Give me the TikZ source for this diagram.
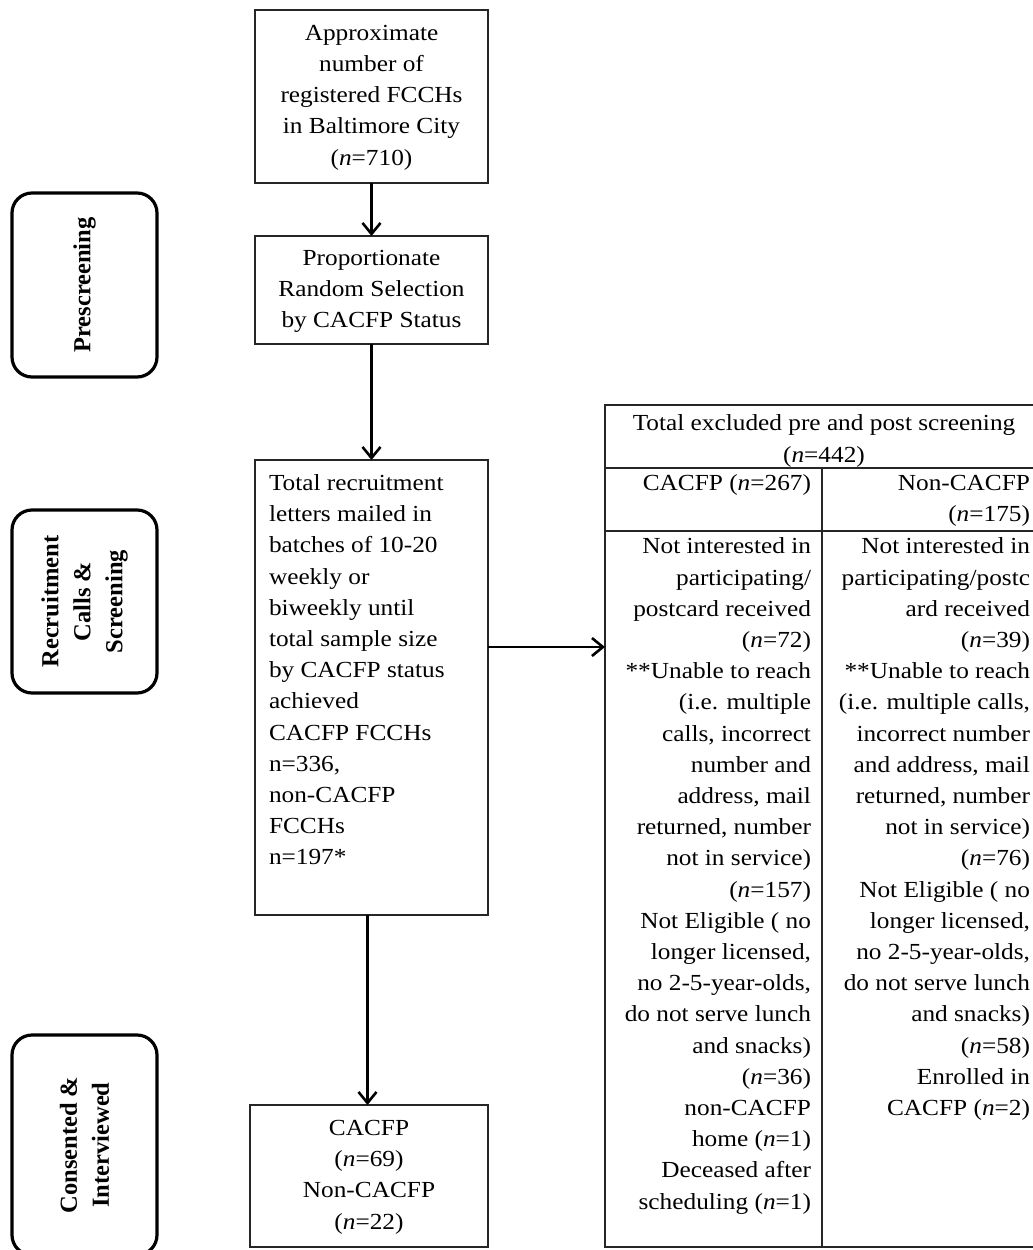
\documentclass[tikz,border=0pt]{standalone}
\usepackage{fontspec}
\setmainfont[FakeStretch=1.1]{Liberation Serif}
\newfontfamily\sidefont{Liberation Serif}
\usetikzlibrary{arrows.meta}
\newcommand{\nn}{\textit{n}}

\begin{document}
\begin{tikzpicture}[x=1pt,y=-1pt,
  every node/.style={inner sep=0pt, outer sep=0pt},
  txt/.style={font=\fontsize{23}{31.2}\selectfont},
  stagebox/.style={draw=black!85, line width=1.5pt, txt, align=center},
  phasebox/.style={draw=black, line width=3.2pt, rounded corners=20pt,
    minimum width=145pt},
  phaselabel/.style={rotate=90, align=center,
    font=\sidefont\bfseries\fontsize{24.5}{32}\selectfont},
  arr/.style={line width=2.6pt, -{Straight Barb[length=11pt,width=18pt]}},
  tablerule/.style={line width=1.5pt, draw=black!85},
]
\useasboundingbox (0,0) rectangle (1033,1250);

% phase labels on the left
\node[phasebox, minimum height=184pt] (pre) at (84.5,285) {};
\node[phaselabel] (preT) at (pre.center) {Prescreening};
\node[phasebox, minimum height=183pt] (rec) at (84.5,601.5) {};
\node[phaselabel] (recT) at (rec.center) {Recruitment\\Calls \&\\Screening};
\node[phasebox, minimum height=220pt] (con) at (84.5,1145) {};
\node[phaselabel] (conT) at (con.center) {Consented \&\\Interviewed};

% main flow
\node[stagebox, minimum width=233pt, minimum height=173pt] (pop) at (371.5,96.5)
  {\strut Approximate\\number of\\registered FCCHs\\in Baltimore City\\(\nn=710)\strut};
\node[stagebox, minimum width=233pt, minimum height=108pt] (sel) at (371.5,290)
  {\strut Proportionate\\Random Selection\\by CACFP Status\strut};
\node[draw=black!85, line width=1.5pt, minimum width=233pt, minimum height=455pt]
  (recruit) at (371.5,687.5) {};
\node[txt, align=left, anchor=north west] (recruitT) at (269,468.7)
  {\strut Total recruitment\\letters mailed in\\batches of 10-20\\weekly or\\biweekly until\\
   total sample size\\by CACFP status\\achieved\\CACFP FCCHs\\n=336,\\non-CACFP\\
   FCCHs\\n=197*\strut};
\node[stagebox, minimum width=238pt, minimum height=142pt] (final) at (369,1176)
  {\strut CACFP\\(\nn=69)\\Non-CACFP\\(\nn=22)\strut};

% exclusion table
\node[draw=black!85, line width=1.5pt, anchor=north west,
  minimum width=437pt, minimum height=842pt] (excl) at (605,405) {};
\draw[tablerule] (605,468) -- (1045,468);
\draw[tablerule] (605,531) -- (1045,531);
\draw[tablerule] (822,468) -- (822,1247);

\node[txt, align=center, anchor=north] (exclHead) at (824,409)
  {\strut Total excluded pre and post screening\\(\nn=442)\strut};
\node[txt, align=right, anchor=north east] (headA) at (811,468.7)
  {\strut CACFP (\nn=267)\strut};
\node[txt, align=right, anchor=north east] (headB) at (1030,468.7)
  {\strut Non-CACFP\\(\nn=175)\strut};
\node[txt, align=right, anchor=north east] (colA) at (811,532)
  {\strut Not interested in\\participating/\\postcard received\\(\nn=72)\\
   **Unable to reach\\(i.e. multiple\\calls, incorrect\\number and\\address, mail\\
   returned, number\\not in service)\\(\nn=157)\\Not Eligible ( no\\
   longer licensed,\\no 2-5-year-olds,\\do not serve lunch\\and snacks)\\(\nn=36)\\
   non-CACFP\\home (\nn=1)\\Deceased after\\scheduling (\nn=1)\strut};
\node[txt, align=right, anchor=north east] (colB) at (1030,532)
  {\strut Not interested in\\participating/postc\\ard received\\(\nn=39)\\
   **Unable to reach\\(i.e. multiple calls,\\incorrect number\\and address, mail\\
   returned, number\\not in service)\\(\nn=76)\\Not Eligible ( no\\
   longer licensed,\\no 2-5-year-olds,\\do not serve lunch\\and snacks)\\(\nn=58)\\
   Enrolled in\\CACFP (\nn=2)\strut};

% connectors
\coordinate (hy) at (0,647);
\draw[arr] (pop.south) -- (sel.north);
\draw[arr] (sel.south) -- (recruit.north);
\draw[arr] ([xshift=-4pt]recruit.south) -- ([xshift=-4pt]recruit.south |- final.north);
\draw[arr] (recruit.east |- hy) -- (excl.west |- hy);
\end{tikzpicture}
\end{document}
